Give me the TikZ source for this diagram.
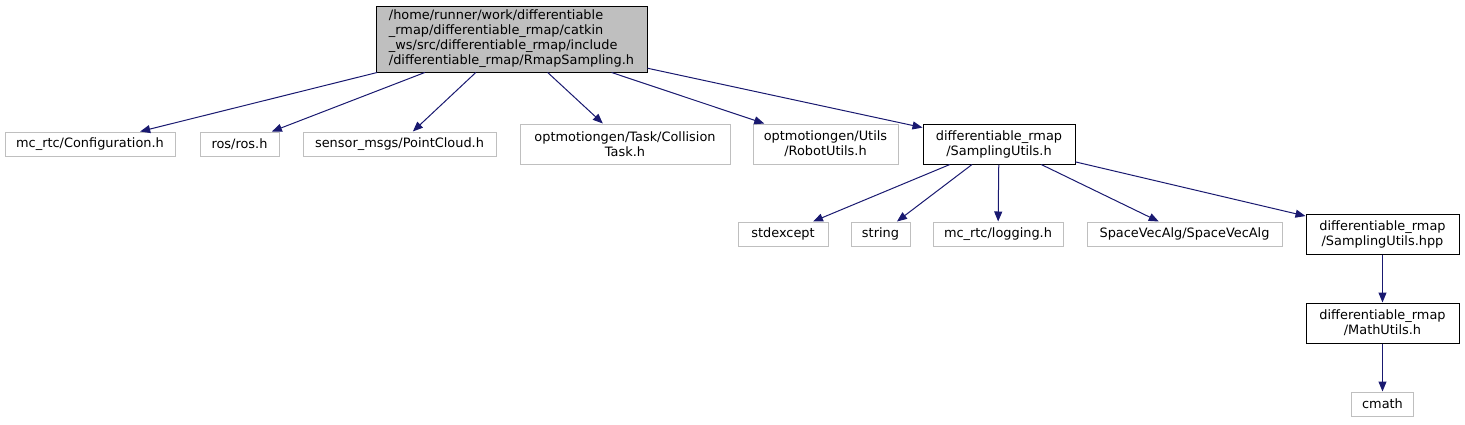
\documentclass[tikz,border=0pt]{standalone}
\usepackage{fontspec}
\setmainfont{DejaVu Sans}
\usepackage{xcolor}
\usepackage{tikz}
\usetikzlibrary{arrows.meta, positioning}

\definecolor{edgeblue}{RGB}{25,25,112}
\definecolor{boxgray}{RGB}{191,191,191}

\tikzset{
  extfile/.style={draw=boxgray, line width=1pt, inner sep=0pt, align=center, font=\fontsize{12.9}{15}\selectfont},
  docfile/.style={draw=black, line width=1pt, inner sep=0pt, align=center, font=\fontsize{12.9}{15}\selectfont},
}

\begin{document}
\begin{tikzpicture}[x=1pt,y=-1pt,>={Triangle[length=10pt,width=8pt]},every edge/.style={draw=edgeblue,->,line width=1pt}]
            \useasboundingbox (0,0) rectangle (1465,424);
            % Fichier principal
            \node[docfile, fill=boxgray, align=left, minimum width=271pt, minimum height=66pt] (root) at (511.5,39)
              {/home/runner/work/differentiable\\\_rmap/differentiable\_rmap/catkin\\\_ws/src/differentiable\_rmap/include\\/differentiable\_rmap/RmapSampling.h};

            % Premier niveau d'inclusions
            \node[extfile, minimum width=170pt, minimum height=24pt] (conf) at (90,144) {mc\_rtc/Configuration.h};
            \node[extfile, minimum width=79pt, minimum height=24pt] (ros) at (239.5,144) {ros/ros.h};
            \node[extfile, minimum width=193pt, minimum height=24pt] (cloud) at (399.5,144) {sensor\_msgs/PointCloud.h};
            \node[extfile, minimum width=210pt, minimum height=40pt] (coll) at (625,144) {optmotiongen/Task/Collision\\Task.h};
            \node[extfile, minimum width=145pt, minimum height=40pt] (robot) at (825.5,144) {optmotiongen/Utils\\/RobotUtils.h};
            \node[docfile, minimum width=152pt, minimum height=40pt] (samp) at (999,144) {differentiable\_rmap\\/SamplingUtils.h};

            % Second niveau
            \node[extfile, minimum width=90pt, minimum height=24pt] (stdexc) at (783,234) {stdexcept};
            \node[extfile, minimum width=59pt, minimum height=24pt] (str) at (880.5,234) {string};
            \node[extfile, minimum width=130pt, minimum height=24pt] (logg) at (998,234) {mc\_rtc/logging.h};
            \node[extfile, minimum width=195pt, minimum height=24pt] (svec) at (1184.5,234) {SpaceVecAlg/SpaceVecAlg};
            \node[docfile, minimum width=153pt, minimum height=40pt] (samphpp) at (1382.5,234) {differentiable\_rmap\\/SamplingUtils.hpp};
            \node[docfile, minimum width=153pt, minimum height=40pt] (math) at (1382.5,323) {differentiable\_rmap\\/MathUtils.h};
            \node[extfile, minimum width=62pt, minimum height=24pt] (cmath) at (1382.5,404) {cmath};

            % Arêtes
            \path (root) edge (conf)
                  (root) edge (ros)
                  (root) edge (cloud)
                  (root) edge (coll)
                  (root) edge (robot)
                  (root) edge (samp);
            \path (samp) edge (stdexc)
                  (samp) edge (str)
                  (samp) edge (logg)
                  (samp) edge (svec)
                  (samp) edge (samphpp);
            \path (samphpp) edge (math)
                  (math) edge (cmath);
        \end{tikzpicture}
\end{document}
